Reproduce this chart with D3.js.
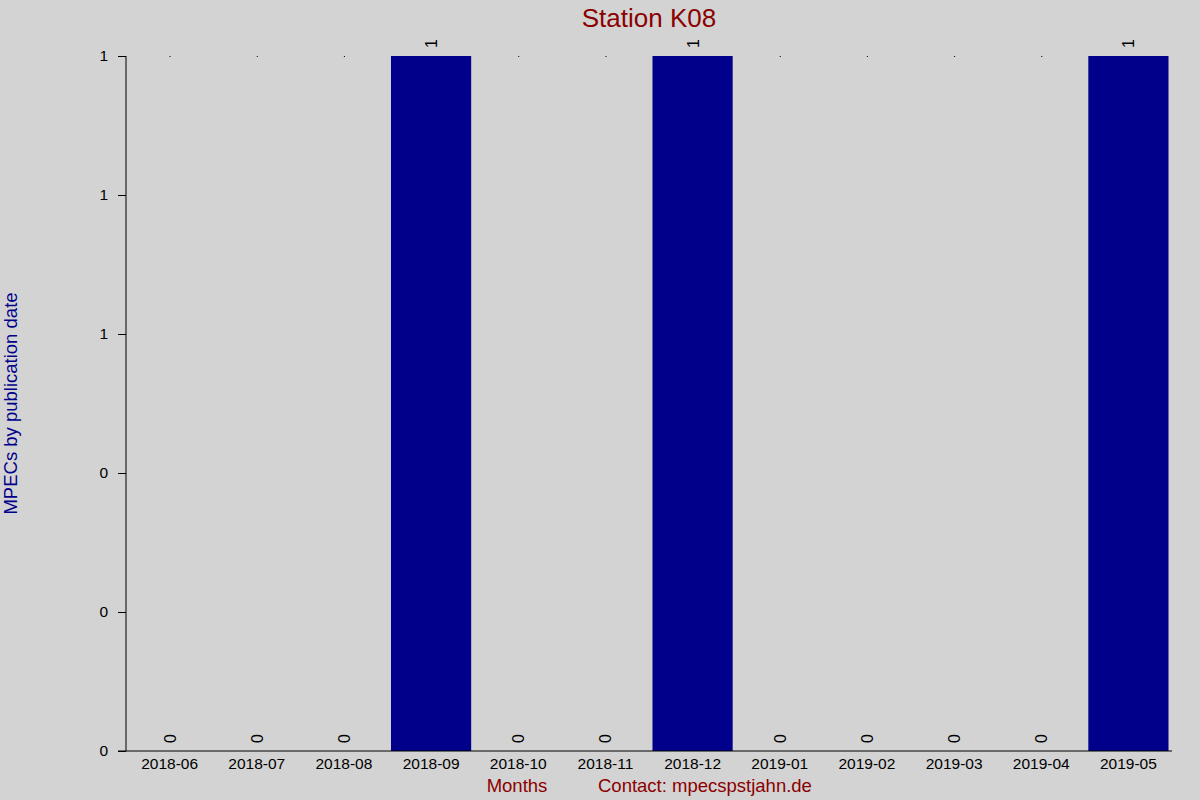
<!DOCTYPE html>
<html>
<head>
<meta charset="utf-8">
<script src="https://cdn.jsdelivr.net/npm/d3@7"></script>
<style>
  body { margin: 0; background: #d3d3d3; }
  svg { display: block; font-family: "Liberation Sans", Arial, sans-serif; }
</style>
</head>
<body>
<svg id="chart" width="1200" height="800"></svg>
<script>
const months = ['2018-06', '2018-07', '2018-08', '2018-09', '2018-10', '2018-11',
  '2018-12', '2019-01', '2019-02', '2019-03', '2019-04', '2019-05']
const counts = [0, 0, 0, 1, 0, 0, 1, 0, 0, 0, 0, 1]
const yTicks = [0, 0.2, 0.4, 0.6, 0.8, 1]

const width = 1200
const height = 800
const margin = { top: 56, right: 28, bottom: 49, left: 126 }
const font = '"Liberation Sans", Arial, sans-serif'

const svg = d3.select('svg#chart')

svg.append('rect')
  .attr('width', width)
  .attr('height', height)
  .attr('fill', '#d3d3d3')

const x = d3.scaleBand()
  .domain(months)
  .range([margin.left, width - margin.right])
  .paddingInner(0.08)
  .paddingOuter(0.04)

const y = d3.scaleLinear()
  .domain([0, 1])
  .range([height - margin.bottom, margin.top])

// bars
svg.append('g')
  .selectAll('rect')
  .data(counts)
  .join('rect')
  .attr('x', (d, i) => x(months[i]))
  .attr('y', d => y(d))
  .attr('width', x.bandwidth())
  .attr('height', d => y(0) - y(d))
  .attr('fill', '#00008b')

// tiny marks at the top for empty months
svg.append('g')
  .selectAll('rect')
  .data(counts.map((d, i) => ({ d, m: months[i] })).filter(o => o.d === 0))
  .join('rect')
  .attr('x', o => x(o.m) + x.bandwidth() / 2)
  .attr('y', y(1))
  .attr('width', 1)
  .attr('height', 1)
  .attr('fill', '#000')

// value labels, rotated
svg.append('g')
  .selectAll('text')
  .data(counts)
  .join('text')
  .attr('transform', (d, i) => {
    const cx = x(months[i]) + x.bandwidth() / 2
    const cy = y(d) - 8
    return `translate(${cx + 6},${cy}) rotate(-90)`
  })
  .attr('text-anchor', 'start')
  .attr('font-size', 16)
  .attr('font-family', font)
  .attr('fill', '#000')
  .text(d => d)

// y axis
const yAxis = svg.append('g')
  .attr('transform', `translate(${margin.left},0)`)
  .call(d3.axisLeft(y)
    .tickValues(yTicks)
    .tickFormat(d3.format('.0f'))
    .tickSize(8)
    .tickPadding(10))
yAxis.attr('font-size', null).attr('font-family', null)
yAxis.select('.domain').attr('d', `M0,${y(1)}V${y(0)}`)
yAxis.selectAll('text')
  .style('font-size', '15.5px')
  .style('font-family', font)
  .attr('fill', '#000')

// x axis
const xAxis = svg.append('g')
  .attr('transform', `translate(0,${y(0)})`)
  .call(d3.axisBottom(x).tickSize(0).tickPadding(7))
xAxis.attr('font-size', null).attr('font-family', null)
xAxis.select('.domain').attr('d', `M${margin.left - 8},0H${width - margin.right}`)
xAxis.selectAll('text')
  .style('font-size', '15.5px')
  .style('font-family', font)
  .attr('fill', '#000')

// titles
svg.append('text')
  .attr('x', 649)
  .attr('y', 27)
  .attr('text-anchor', 'middle')
  .attr('font-size', 26)
  .attr('fill', '#8b0000')
  .text('Station K08')

svg.append('text')
  .attr('transform', `translate(17,${(y(0) + y(1)) / 2}) rotate(-90)`)
  .attr('text-anchor', 'middle')
  .attr('font-size', 18.5)
  .attr('fill', '#00008b')
  .text('MPECs by publication date')

svg.append('text')
  .attr('x', 517)
  .attr('y', 792)
  .attr('text-anchor', 'middle')
  .attr('font-size', 18.5)
  .attr('fill', '#8b0000')
  .text('Months')

svg.append('text')
  .attr('x', 598)
  .attr('y', 792)
  .attr('font-size', 18.5)
  .attr('fill', '#8b0000')
  .text('Contact: mpecspstjahn.de')
</script>
</body>
</html>
